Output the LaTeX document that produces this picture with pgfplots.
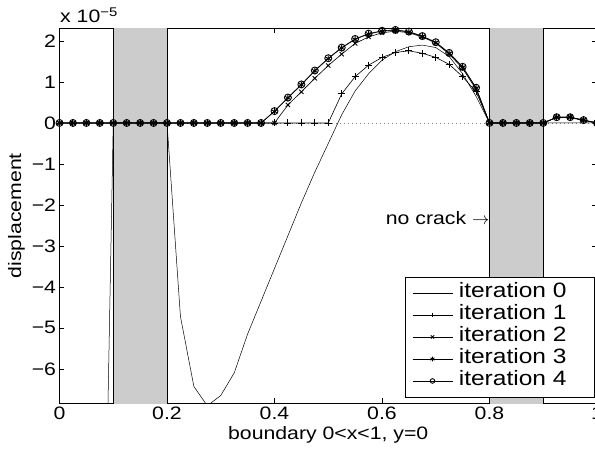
\documentclass[border=0pt]{standalone}
\usepackage{pgfplots}
\pgfplotsset{compat=1.18}
\usepackage{pgfplotstable}
\usepackage{fontspec}
\setmainfont[FakeStretch=1.18]{Liberation Sans}
\newfontfamily\lsans[FakeStretch=1.18]{Liberation Sans}
\usetikzlibrary{calc}
\newcommand\F{\lsans\fontsize{18bp}{21bp}\selectfont}
\newcommand\FL{\lsans\fontsize{20.8bp}{24bp}\selectfont}

% displacement along the boundary y=0, in units of 1e-5
\pgfplotstableread{
x      i0     i1    i2    i3    i4
0      nan    0     0     0     0
0.025  nan    0     0     0     0
0.05   nan    0     0     0     0
0.075  -17.5  0     0     0     0
0.1    0      0     0     0     0
0.125  0      0     0     0     0
0.15   0      0     0     0     0
0.175  0      0     0     0     0
0.2    0      0     0     0     0
0.225  -4.72  0     0     0     0
0.25   -6.43  0     0     0     0
0.275  -6.9   0     0     0     0
0.3    -6.65  0     0     0     0
0.325  -6.1   0     0     0     0
0.35   -5.15  0     0     0     0
0.375  -4.35  0     0     0     0
0.4    -3.55  0     0     0.28  0.29
0.425  -2.75  0     0.44  0.61  0.62
0.45   -1.95  0     0.76  0.93  0.94
0.475  -1.2   0     1.09  1.27  1.28
0.5    -0.5   0     1.40  1.57  1.58
0.525  0.2    0.71  1.68  1.83  1.84
0.55   0.78   1.13  1.94  2.04  2.05
0.575  1.2    1.41  2.10  2.17  2.18
0.6    1.53   1.60  2.20  2.24  2.25
0.625  1.74   1.72  2.24  2.26  2.27
0.65   1.86   1.76  2.20  2.22  2.23
0.675  1.9    1.70  2.10  2.11  2.12
0.7    1.84   1.60  1.95  1.96  1.97
0.725  1.62   1.43  1.68  1.70  1.71
0.75   1.2    1.13  1.33  1.36  1.37
0.775  0.65   0.76  0.82  0.85  0.86
0.8    0      0     0     0     0
0.825  0      0     0     0     0
0.85   0      0     0     0     0
0.875  0      0     0     0     0
0.9    0      0     0     0     0
0.925  0      0.13  0.14  0.14  0.14
0.95   0      0.13  0.14  0.14  0.14
0.975  0      0.06  0.07  0.07  0.07
1      0      0     0     0     0
}\data

\begin{document}
\begin{tikzpicture}
\begin{axis}[
  name=ax,
  at={(0,0)}, anchor=south west,
  scale only axis,
  width=537.5bp, height=375bp,
  xmin=0, xmax=1, ymin=-6.84, ymax=2.31,
  xtick={0,0.2,0.4,0.6,0.8,1},
  xticklabels={0,0.2,0.4,0.6,0.8,1},
  ytick={-6,-5,-4,-3,-2,-1,0,1,2},
  yticklabels={−6,−5,−4,−3,−2,−1,0,1,2},
  scaled ticks=false,
  tick align=inside,
  major tick length=5bp,
  tick style={line width=0.6bp, black},
  axis line style={line width=0.8bp},
  every tick label/.append style={font=\F},
  label style={font=\F},
  xlabel={boundary 0<x<1, y=0},
  ylabel={displacement},
  legend style={font=\FL, at={(0.6428,0.015)}, anchor=south west,
    draw=none, fill=none, cells={anchor=west},
    inner xsep=7bp, inner ysep=5.5bp, row sep=0bp,
    nodes={inner xsep=6bp, inner ysep=4bp, text height=12bp, text depth=2bp}},
  legend image code/.code={%
    \draw[mark repeat=2, mark phase=2, #1, mark size=2.3bp]
      plot coordinates {(0bp,0bp) (20bp,0bp) (40bp,0bp)};},
  every axis plot/.append style={line width=0.6bp, black},
]
% regions where the crack is absent
\addplot[forget plot, fill=gray!40, draw=black, line width=0.6bp]
  coordinates {(0.1,-10) (0.2,-10) (0.2,10) (0.1,10)} -- cycle;
\addplot[forget plot, fill=gray!40, draw=black, line width=0.6bp]
  coordinates {(0.8,-10) (0.9,-10) (0.9,10) (0.8,10)} -- cycle;
% zero reference
\addplot[forget plot, gray, line width=0.6bp, dash pattern=on 0.8bp off 3.2bp]
  coordinates {(0,0) (1,0)};

\addplot[line width=0.5bp] table[x=x, y=i0] {\data};
\addlegendentry{iteration 0}
\addplot[mark=+, mark size=3.5bp, mark options={solid, line width=0.9bp}] table[x=x, y=i1] {\data};
\addlegendentry{iteration 1}
\addplot[mark=x, mark size=3bp, mark options={solid, line width=0.9bp}] table[x=x, y=i2] {\data};
\addlegendentry{iteration 2}
\addplot[mark=asterisk, mark size=3.3bp, mark options={solid, line width=0.9bp}] table[x=x, y=i3] {\data};
\addlegendentry{iteration 3}
\addplot[mark=o, mark size=3.5bp, mark options={solid, line width=0.9bp}] table[x=x, y=i4] {\data};
\addlegendentry{iteration 4}

% legend frame
\draw[fill=white, draw=black, line width=0.6bp]
  (rel axis cs:0.6428,0.015) rectangle (rel axis cs:0.9944,0.3368);
\node[anchor=east, font=\F, inner sep=0pt] at (axis cs:0.8,-2.32) {no crack $\rightarrow$};
\end{axis}
\node[anchor=base west, font=\F, inner sep=0pt] at ($(ax.north west)+(0.5bp,5.6bp)$) {x 10\textsuperscript{−5}};
\pgfresetboundingbox
\path[use as bounding box] ($(ax.south west)+(-59.5bp,-48.7bp)$) rectangle ($(ax.south west)+(535.5bp,403.3bp)$);
\end{tikzpicture}
\end{document}
